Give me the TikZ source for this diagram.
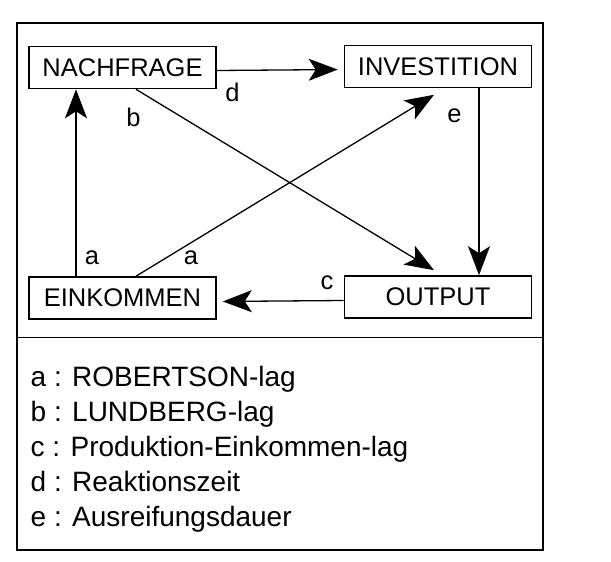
\documentclass[tikz,border=0pt]{standalone}
\usepackage{fontspec}
\setmainfont{Liberation Sans}
\usetikzlibrary{arrows.meta, positioning}
\tikzset{
    stageBox/.style={rectangle, draw, line width=1.6pt, minimum width=187pt, minimum height=42pt, inner sep=0pt, font=\fontsize{25.5}{30}\selectfont},
    lagArrow/.style={-{Stealth[length=29pt, width=22pt, inset=7pt]}, line width=1.3pt},
    lagLabel/.style={inner sep=0pt, font=\fontsize{25.5}{30}\selectfont},
    legendLine/.style={anchor=base west, inner sep=0pt, font=\fontsize{28}{33}\selectfont},
    frameLine/.style={line width=1.6pt},
}
\newcommand{\drawLag}[3][]{
    \draw[lagArrow, #1] (#2) -- (#3);
}
\begin{document}
\begin{tikzpicture}[x=1pt, y=-1pt]
        \useasboundingbox (0,0) rectangle (611,562);

        % Rahmen und Trennlinie
        \draw[frameLine] (17,23) rectangle (543,550);
        \draw[frameLine] (17,337.5) -- (543,337.5);

        \node[stageBox] (NF) at (122.5, 67.5) {NACHFRAGE};
        \node[stageBox] (IV) at (438, 66.5) {INVESTITION};
        \node[stageBox] (EK) at (122.5, 298) {EINKOMMEN};
        \node[stageBox] (OP) at (438, 297) {OUTPUT};

        \drawLag[shorten >=6pt]{[yshift=-3pt]NF.east}{[yshift=-3pt]IV.west}
        \drawLag{[xshift=41pt]IV.south}{[xshift=41pt]OP.north}
        \drawLag[shorten >=6pt]{[yshift=-3.5pt]OP.west}{[yshift=-3.5pt]EK.east}
        \drawLag{[xshift=-46.5pt]EK.north}{[xshift=-46.5pt]NF.south}
        \drawLag{[xshift=13.5pt]NF.south}{[xshift=-4pt, yshift=5pt]OP.north}
        \drawLag{[xshift=13.5pt]EK.north}{[xshift=-4pt, yshift=-6.5pt]IV.south}

        % Verzoegerungen
        \node[lagLabel] (la1) at (92, 258) {a};
        \node[lagLabel] (la2) at (191, 258) {a};
        \node[lagLabel] (lb) at (133.5, 117) {b};
        \node[lagLabel] (lc) at (327, 283) {c};
        \node[lagLabel] (ld) at (232.5, 92) {d};
        \node[lagLabel] (le) at (454.5, 116) {e};

        % Legende
        \foreach \y/\txt [count=\i] in {386/{a : ROBERTSON-lag}, 421/{b : LUNDBERG-lag}, 456/{c : Produktion-Einkommen-lag}, 491/{d : Reaktionszeit}, 526/{e : Ausreifungsdauer}}
            \node[legendLine] (leg\i) at (30.5, \y) {\txt};

    \end{tikzpicture}
\end{document}
